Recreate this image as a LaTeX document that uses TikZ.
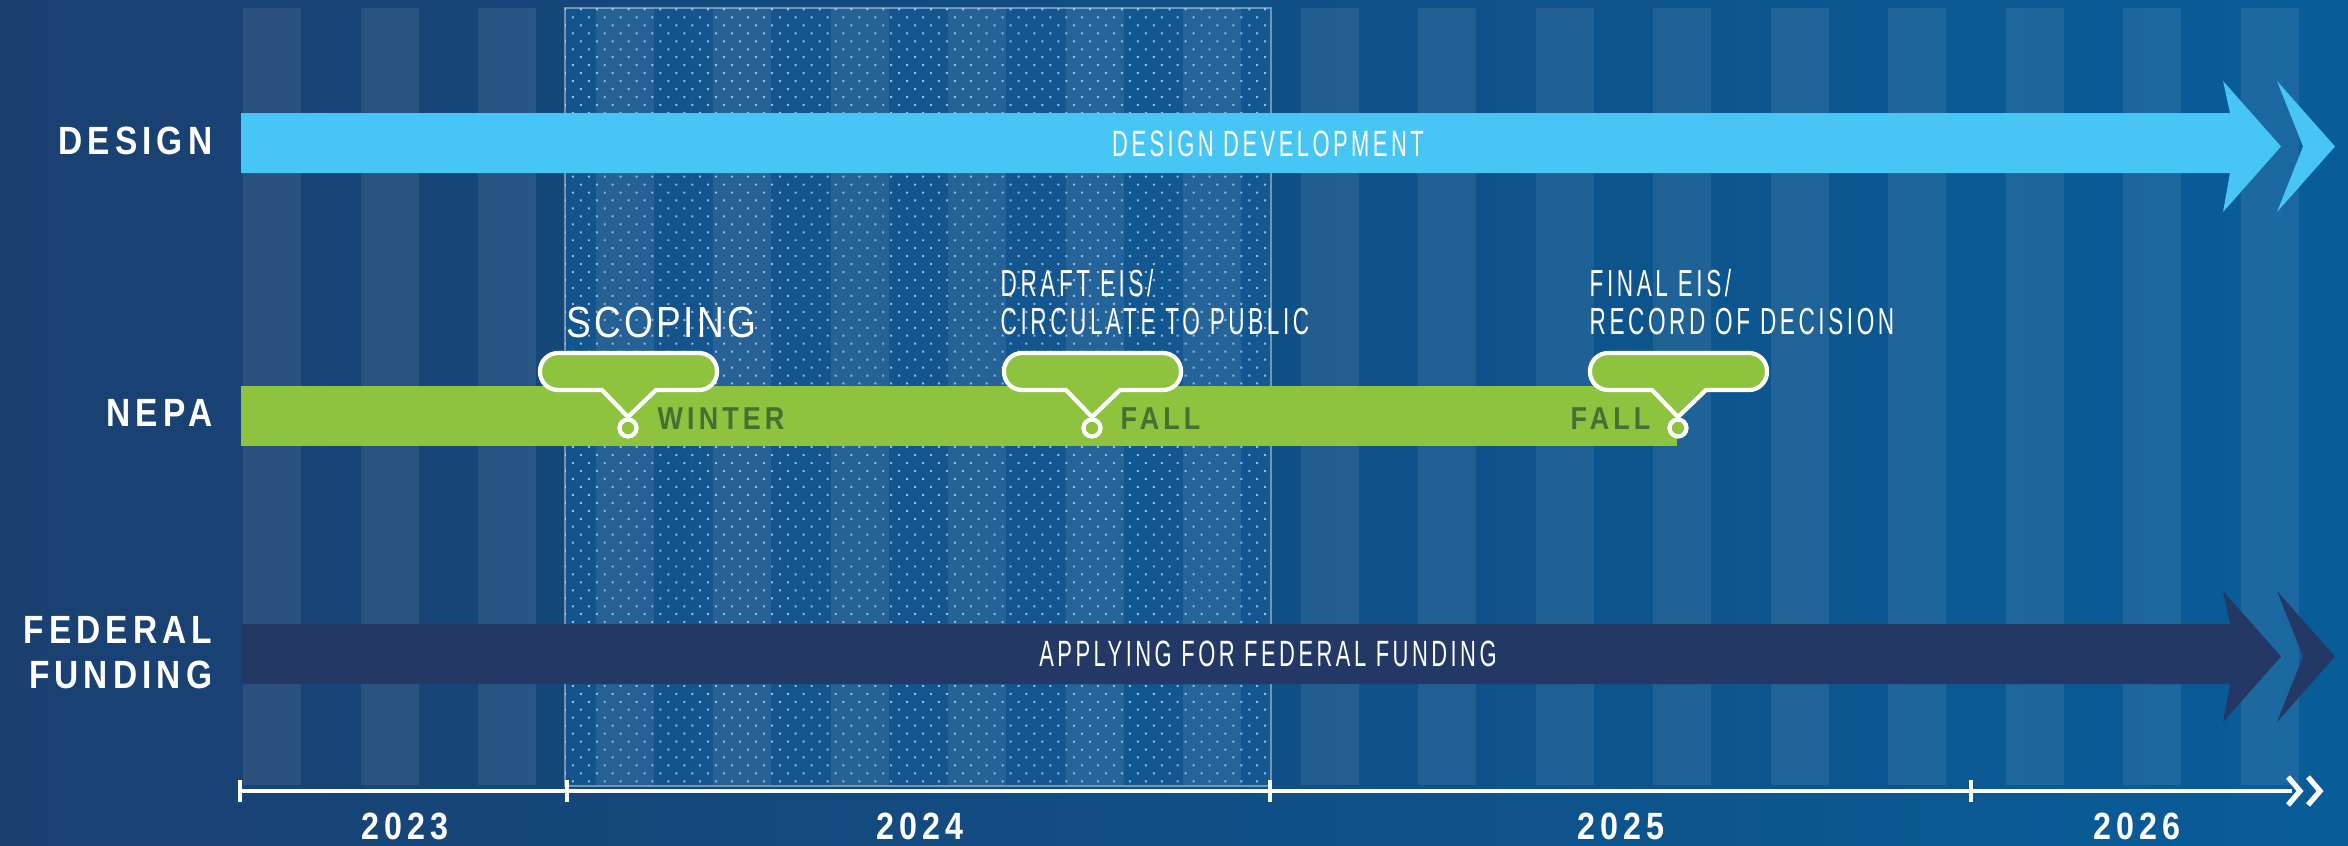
\documentclass[tikz,border=0pt]{standalone}
\usepackage{fontspec}
\setmainfont{Liberation Sans}
\newfontfamily\labelfont[FakeStretch=0.85,LetterSpace=13]{Liberation Sans}
\newfontfamily\thinfont[FakeStretch=0.6,LetterSpace=9.5]{Liberation Sans}
\newfontfamily\scopefont[FakeStretch=0.85,LetterSpace=7]{Liberation Sans}
\usetikzlibrary{patterns.meta}
\definecolor{designblue}{RGB}{71,197,244}
\definecolor{nepagreen}{RGB}{141,195,63}
\definecolor{fundnavy}{RGB}{35,56,100}
\definecolor{seasongreen}{RGB}{72,110,50}
\definecolor{bgleft}{RGB}{26,64,112}
\definecolor{bgright}{RGB}{8,93,153}
\definecolor{dotblue}{RGB}{150,185,230}
\definecolor{hilite}{RGB}{20,95,155}
\tikzset{
  rowlabel/.style={inner sep=0pt, text=white, font=\labelfont\bfseries\fontsize{11.2}{13}\selectfont},
  yearlabel/.style={inner sep=0pt, text=white, anchor=base, font=\labelfont\bfseries\fontsize{10.8}{12}\selectfont},
  season/.style={inner sep=0pt, text=seasongreen, font=\labelfont\bfseries\fontsize{9}{10}\selectfont},
  milestone/.style={inner sep=0pt, text=white, anchor=base west, font=\thinfont\fontsize{10.7}{12}\selectfont},
  barlabel/.style={inner sep=0pt, text=white, anchor=base, font=\thinfont\fontsize{10.4}{12}\selectfont},
  stripe/.style={white, opacity=0.08},
  callout/.pic={
    \filldraw [fill=nepagreen, draw=white, line width=1.2pt] (0,0) -- (-26,-27) [rounded corners=0.18cm] -- (-88,-27) -- (-88,-64) -- (89,-64) -- (89,-27) [sharp corners] -- (28,-27) -- cycle;
    \filldraw [fill=nepagreen, draw=white, line width=1.2pt] (0,11) circle (8.5);
  }
}
\begin{document}
\begin{tikzpicture}[x=0.01cm, y=-0.01cm]
\useasboundingbox (0,0) rectangle (2348,845);
\shade [left color=bgleft, right color=bgright] (0,0) rectangle (2348,845);
\fill [hilite, opacity=0.55] (565,8) rectangle (1271,786);
\foreach \i in {0,...,17}
  \fill [stripe] ({243+117.5*\i},8) rectangle ++(58,777);
\fill [pattern={Dots[distance=3.2pt, angle=45, radius=0.4pt]}, pattern color=dotblue] (565,8) rectangle (1271,786);
\draw [white, opacity=0.4, line width=0.4pt] (565,8) rectangle (1271,786);

\fill [designblue] (241,113) -- (2230,113) -- (2223,81) -- (2281,146.5) -- (2223,212) -- (2230,173) -- (241,173) -- cycle;
\fill [designblue] (2277,81) -- (2335,146.5) -- (2277,212) -- (2303,146.5) -- cycle;
\fill [nepagreen] (241,386) rectangle (1677,446);
\fill [fundnavy] (241,624) -- (2230,624) -- (2223,591) -- (2281,656.5) -- (2223,722) -- (2230,684) -- (241,684) -- cycle;
\fill [fundnavy] (2277,591) -- (2335,656.5) -- (2277,722) -- (2303,656.5) -- cycle;

\pic at (628,417) {callout};
\pic at (1092,417) {callout};
\pic at (1678,417) {callout};

\coordinate (t23) at (240,791);
\coordinate (t24) at (567,791);
\coordinate (t25) at (1270,791);
\coordinate (t26) at (1971,791);
\coordinate (tend) at (2292,791);
\draw [white, line width=1.4pt] (t23) to (tend);
\foreach \t in {t23,t24,t25,t26}
  \draw [white, line width=1.4pt] ([yshift=0.11cm]\t) to ([yshift=-0.11cm]\t);
\draw [white, line width=1.5pt] (2288,777) -- (2300,791) -- (2288,805);
\draw [white, line width=1.5pt] (2308,777) -- (2320,791) -- (2308,805);

\node [rowlabel, anchor=base east] (design) at (213,154) {DESIGN};
\node [rowlabel, anchor=base east] (nepa) at (213,426) {NEPA};
\node [rowlabel, anchor=base east] (federal) at (213,643) {FEDERAL};
\node [rowlabel, anchor=base east] (funding) at (213,688) {FUNDING};

\node [barlabel] (develop) at (1268,156) {DESIGN DEVELOPMENT};
\node [barlabel] (applying) at (1268,666) {APPLYING FOR FEDERAL FUNDING};

\node [inner sep=0pt, text=white, anchor=base west, font=\scopefont\fontsize{12.4}{14}\selectfont] (scoping) at (566,337) {SCOPING};
\node [milestone] (draft) at (1000,296) {DRAFT EIS/};
\node [milestone] (circulate) at (1000,334) {CIRCULATE TO PUBLIC};
\node [milestone] (final) at (1589,296) {FINAL EIS/};
\node [milestone] (record) at (1589,334) {RECORD OF DECISION};

\node [season, anchor=base west] (winter) at (657,429) {WINTER};
\node [season, anchor=base west] (fall1) at (1120,429) {FALL};
\node [season, anchor=base east] (fall2) at (1651,429) {FALL};

\node [yearlabel] (y23) at (405,839) {2023};
\node [yearlabel] (y24) at (920,839) {2024};
\node [yearlabel] (y25) at (1621,839) {2025};
\node [yearlabel] (y26) at (2137,839) {2026};
\end{tikzpicture}
\end{document}
